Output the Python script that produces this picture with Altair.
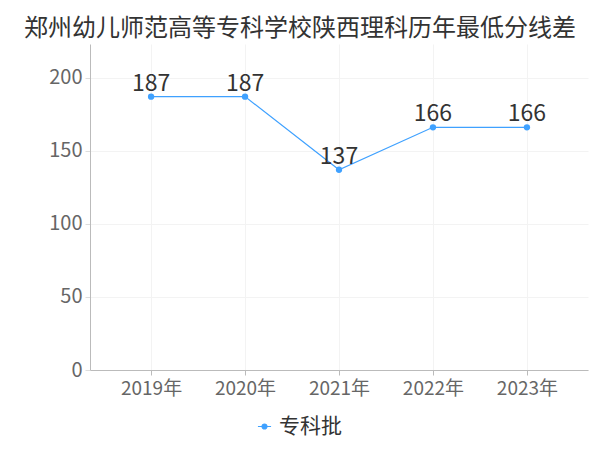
import altair as alt
import pandas as pd

years = ["2019年", "2020年", "2021年", "2022年", "2023年"]
scores = [187, 187, 137, 166, 166]
series = ["专科批"] * 5

df = pd.DataFrame({"year": years, "score": scores, "series": series})

font = "Noto Sans CJK SC"
blue = "#3fa1ff"

x = alt.X("year:N", sort=years, title=None,
          scale=alt.Scale(type="point", padding=0.65),
          axis=alt.Axis(labelAngle=0, labelFontSize=19, labelColor="#666666", labelFont=font,
                        domainColor="#bbbbbb", tickColor="#bbbbbb", tickSize=5, labelPadding=4,
                        grid=True, gridColor="#f3f3f3"))
y = alt.Y("score:Q", title=None,
          scale=alt.Scale(domain=[0, 223], nice=False),
          axis=alt.Axis(values=[0, 50, 100, 150, 200], labelFontSize=20, labelColor="#666666",
                        labelFont=font, domainColor="#bbbbbb", tickColor="#dddddd", tickSize=5,
                        gridColor="#f3f3f3", labelPadding=3))

color = alt.Color("series:N", title=None,
                  scale=alt.Scale(range=[blue]),
                  legend=alt.Legend(orient="none", legendX=164, legendY=372,
                                    labelFontSize=21, labelColor="#333333", labelFont=font,
                                    symbolType="M-1.2,0H1.2M-0.45,0A0.45,0.45 0 1,1 0.45,0A0.45,0.45 0 1,1 -0.45,0Z",
                                    symbolSize=120, symbolStrokeWidth=1.2,
                                    symbolFillColor=blue, symbolStrokeColor=blue))

base = alt.Chart(df)
line = base.mark_line(strokeWidth=1.2).encode(x=x, y=y, color=color)
pts = base.mark_point(filled=True, size=40, opacity=1).encode(x=x, y=y, color=alt.Color("series:N", legend=None, scale=alt.Scale(range=[blue])))
labels = base.mark_text(baseline="bottom", dy=-1, fontSize=23, color="#333333", font=font).encode(
    x=x, y=y, text="score:Q")

chart = alt.layer(line, pts, labels).properties(
    width=498, height=326,
    autosize=alt.AutoSizeParams(type="none"),
    padding={"left": 82, "top": 36, "right": 4, "bottom": 80},
    title=alt.TitleParams("郑州幼儿师范高等专科学校陕西理科历年最低分线差", fontSize=24,
                          font=font, color="#333333", fontWeight="normal",
                          anchor="middle", dx=-39, offset=3),
).configure_view(stroke=None)

chart.save("out.html", embed_options={"renderer": "svg", "actions": False})
